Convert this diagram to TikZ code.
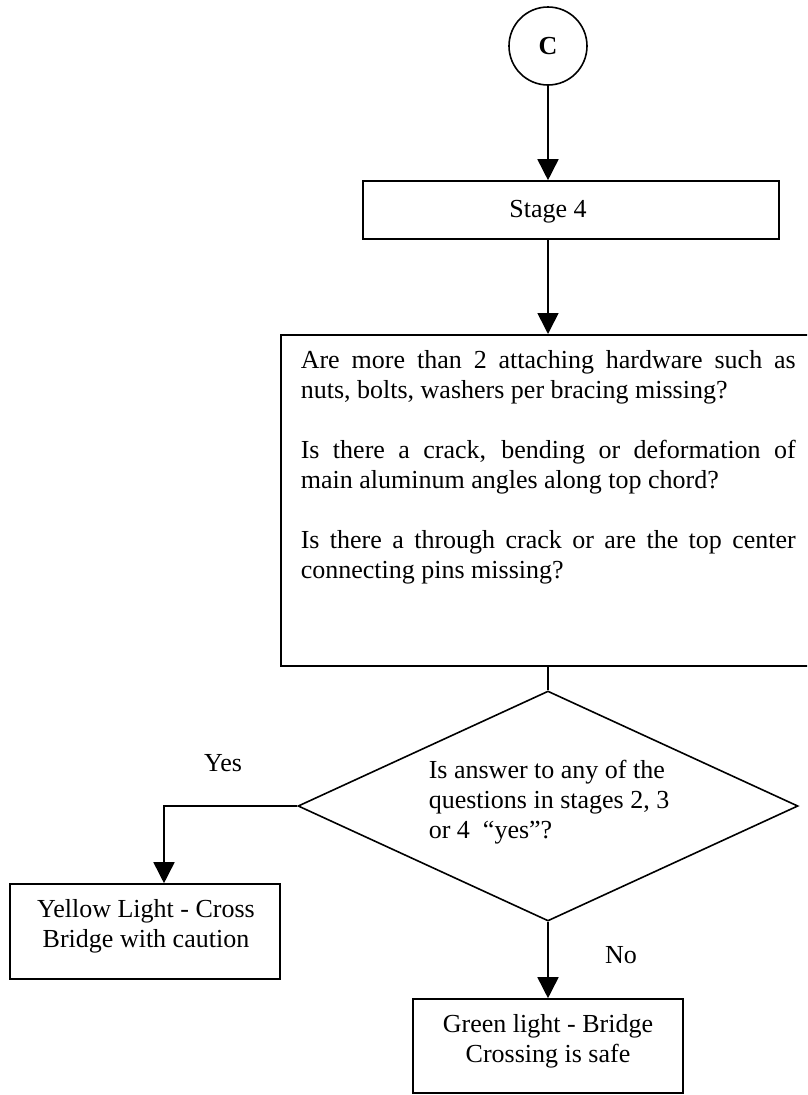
\documentclass[tikz,border=0pt]{standalone}
\usepackage{fontspec}
\setmainfont{Liberation Serif}
\usetikzlibrary{arrows.meta,shapes.geometric}
\begin{document}
\begin{tikzpicture}[x=1pt,y=-1pt,
  line width=1.6pt,
  box/.style={draw, rectangle, inner sep=0pt},
  txt/.style={font=\fontsize{26}{30}\selectfont, inner sep=0pt},
  flow/.style={-{Triangle[width=21pt,length=21pt]}},
]
\useasboundingbox (0,0) rectangle (807,1095);
\clip (0,0) rectangle (807,1095);

% connector circle and first stage
\node[draw, circle, minimum size=78pt, inner sep=0pt,
      font=\fontsize{26}{30}\selectfont\bfseries] (c) at (548,46) {C};
\node[box, minimum width=416pt, minimum height=58pt] (s4) at (571,210) {};
\node[txt, anchor=base] (s4t) at (548,217) {Stage 4};

% question box (runs past the right edge)
\node[box, minimum width=540pt, minimum height=331pt, anchor=north west] (q) at (280,334) {};
\node[txt, anchor=base west] (qt) at (300,368) {\parbox[t]{495pt}{%
  \fontsize{26}{30}\selectfont\setlength{\parskip}{30pt}%
  Are more than 2 attaching hardware such as\linebreak nuts, bolts, washers per bracing missing?\par
  Is there a crack, bending or deformation of\linebreak main aluminum angles along top chord?\par
  Is there a through crack or are the top center\linebreak connecting pins missing?}};

% decision
\node[draw, diamond, minimum width=500pt, minimum height=230pt, inner sep=0pt] (d) at (548,806) {};
\node[txt, anchor=base west] (dt) at (428,778)
  {\begin{tabular}[t]{@{}l@{}}Is answer to any of the\\questions in stages 2, 3\\or 4~ “yes”?\end{tabular}};

% outcomes
\node[box, minimum width=270pt, minimum height=95pt] (y) at (145,931.5) {};
\node[txt, anchor=base] (yt) at (146,917)
  {\begin{tabular}[t]{@{}c@{}}Yellow Light - Cross\\Bridge with caution\end{tabular}};
\node[box, minimum width=270pt, minimum height=94pt] (g) at (548,1046) {};
\node[txt, anchor=base] (gt) at (548,1032)
  {\begin{tabular}[t]{@{}c@{}}Green light - Bridge\\Crossing is safe\end{tabular}};

\node[txt, anchor=base] (yes) at (223,771) {Yes};
\node[txt, anchor=base] (no) at (621,963) {No};

% connectors
\draw[flow] (c.south) -- (c.south |- s4.north);
\draw[flow] (c.south |- s4.south) -- (c.south |- q.north);
\draw (d.north |- q.south) -- (d.north);
\draw[flow] (d.west) -| ([xshift=19pt]y.north);
\draw[flow] (d.south) -- (g.north);
\end{tikzpicture}
\end{document}
